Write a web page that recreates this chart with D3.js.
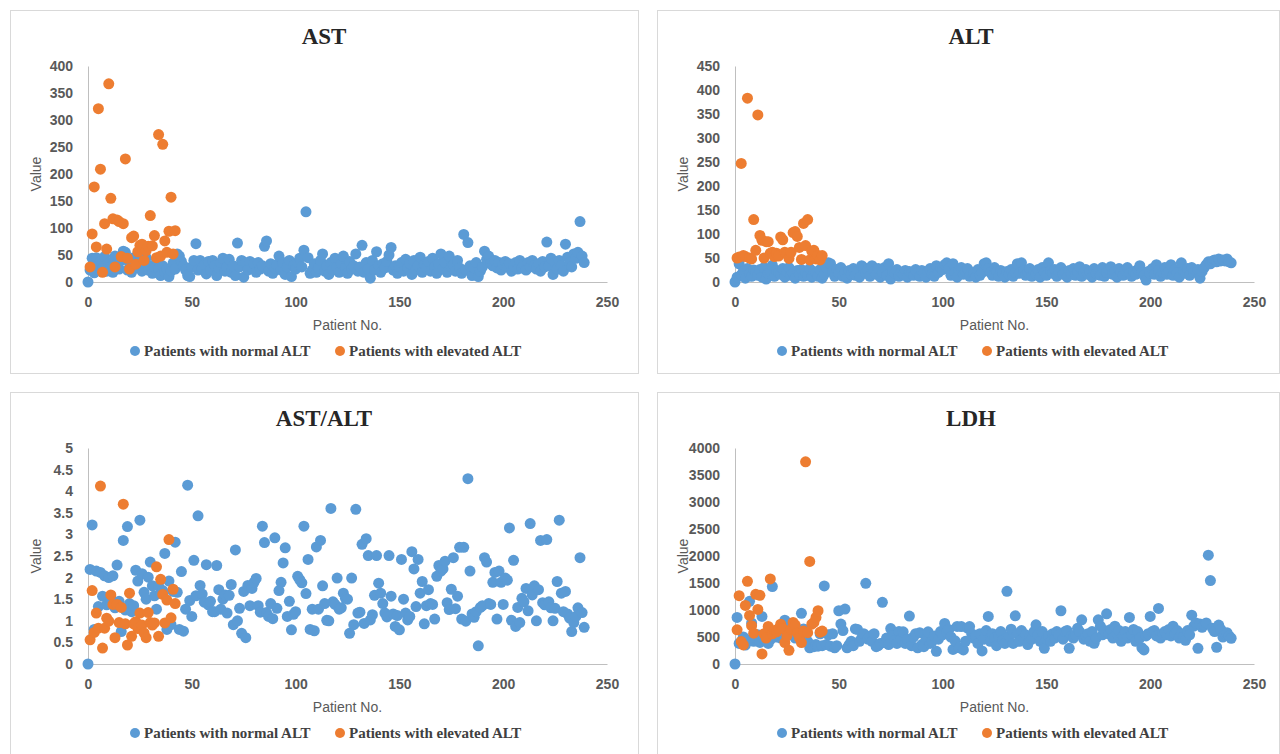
<!DOCTYPE html>
<html>
<head>
<script src="https://cdn.jsdelivr.net/npm/d3@7"></script>
<style>
body { margin: 0; background: #fff; }
.tick text { font-family: "Liberation Sans", Arial, sans-serif; font-weight: bold; font-size: 14px; fill: #595959; }
</style>
</head>
<body>
<script>
// patient number = position in the array (normal group starts at 0, elevated group at 1)
var astNormal = [0,
22,44,17,45,30,38,25,47,20,35,
28,18,48,33,24,40,57,55,22,36,
18,45,29,42,38,20,27,45,22,30,
16,28,42,25,12,30,18,24,10,20,
35,24,52,48,38,30,22,12,10,28,
40,71,22,40,25,32,15,38,22,40,
30,12,26,36,44,20,28,42,18,30,
12,72,28,40,9,35,22,38,26,34,
18,36,24,30,66,76,20,34,16,26,
32,48,22,36,14,28,40,10,30,24,
36,44,28,59,130,45,16,22,34,18,
26,40,52,20,30,14,36,22,44,28,
18,34,48,26,16,38,24,30,52,20,
28,68,18,36,24,7,40,22,56,30,
18,34,26,38,50,64,22,30,16,28,
36,20,42,26,34,14,40,22,30,46,
18,32,26,38,20,44,28,16,34,52,
24,36,18,48,28,32,20,40,26,16,
88,22,73,30,12,26,36,10,20,28,
57,42,48,34,30,40,26,36,22,32,
38,28,34,20,30,36,24,40,26,32,
22,36,28,40,30,24,34,20,38,28,
74,30,44,14,36,24,40,30,20,70,
46,36,28,52,44,55,112,48,36];
var astElevated = [28,89,176,65,321,209,18,108,61,367,
155,117,28,115,112,47,108,228,44,24,
82,85,33,56,68,70,40,58,66,123,
67,86,45,273,48,255,76,55,94,157,
52,95];

var altNormal = [0,
10,38,15,22,8,28,18,12,25,20,
14,26,10,30,6,18,22,35,12,24,
20,16,28,10,22,30,14,18,8,24,
16,26,12,20,14,28,10,22,18,12,
26,8,16,30,40,38,22,12,26,18,
30,12,20,8,24,16,28,14,22,10,
34,30,18,26,12,34,22,16,28,10,
20,30,14,38,6,22,18,26,12,20,
16,24,10,22,18,14,26,20,12,24,
18,10,22,28,16,12,34,20,30,26,
36,40,28,14,38,20,10,24,30,16,
22,28,12,20,18,10,26,14,20,38,
40,28,20,14,30,22,12,24,18,10,
22,16,26,12,20,38,18,40,24,14,
20,28,12,22,16,26,10,30,20,14,
40,24,18,26,12,22,30,16,20,10,
24,18,28,14,22,32,12,20,26,16,
22,10,28,18,24,14,30,12,20,26,
32,16,22,10,28,20,14,24,30,18,
12,22,16,26,34,20,14,4,22,18,
28,16,36,24,12,20,30,16,22,36,
14,26,20,10,40,22,18,28,14,30,
20,24,26,8,22,30,36,42,38,44,
46,42,48,44,46,44,48,42,40];
var altElevated = [50,52,247,55,53,383,50,48,130,66,
348,97,87,50,84,84,60,62,53,60,
54,94,88,62,58,49,62,103,105,95,
72,47,122,76,130,46,64,66,48,55,
46,55];

var ratioNormal = [0,
2.19,3.22,0.80,2.15,1.33,2.12,1.57,2.04,1.37,
2.00,1.52,2.04,1.30,2.29,1.45,0.75,2.86,1.25,3.18,
1.40,1.21,1.35,2.17,1.92,3.33,2.09,1.66,1.50,2.01,
2.36,1.81,1.58,1.27,1.81,1.64,1.70,2.56,0.80,1.92,
0.91,1.68,2.82,1.66,0.80,2.14,0.76,1.27,4.14,1.47,
1.10,2.40,1.58,3.43,1.82,1.62,1.43,2.30,1.37,1.45,
1.21,1.21,2.28,1.72,1.27,1.50,1.60,1.18,1.59,1.84,
0.91,2.64,1.00,1.29,0.71,1.68,0.61,1.82,1.35,1.75,
1.89,1.98,1.35,1.20,3.19,2.81,1.19,1.10,1.40,1.05,
2.92,1.29,1.70,1.89,2.34,2.69,1.10,1.45,0.79,1.15,
1.21,2.03,1.95,1.88,3.19,1.63,2.42,0.80,1.27,0.77,
2.71,1.27,2.86,1.81,1.40,1.01,1.00,3.60,1.44,1.38,
1.99,1.27,1.30,1.64,1.52,1.50,0.71,1.99,0.91,3.58,
1.18,1.20,2.77,0.94,2.90,2.51,1.02,1.14,1.59,2.51,
1.87,1.64,1.40,1.18,1.09,2.51,1.57,1.16,0.87,1.12,
0.79,2.42,1.50,1.18,1.02,1.10,2.60,2.20,1.33,2.42,
1.64,1.91,0.93,1.35,1.72,1.40,1.38,1.04,2.03,2.28,
2.15,2.20,2.38,1.42,1.26,1.73,2.46,1.28,1.57,2.70,
1.04,2.70,0.99,4.29,2.15,1.16,1.08,1.21,0.42,1.31,
1.35,2.46,2.36,1.40,1.38,1.89,2.12,1.04,2.15,1.89,
1.38,1.99,1.94,3.15,1.01,2.40,0.87,1.31,0.96,1.52,
1.44,1.75,1.23,3.25,1.60,1.81,1.00,1.72,2.86,1.42,
1.37,2.88,1.44,1.30,1.00,1.29,1.91,3.33,1.64,1.21,
1.68,1.16,1.06,0.75,0.96,1.10,1.30,2.46,1.19,0.85];
var ratioElevated = [0.56,1.70,0.73,1.18,0.83,4.12,0.37,0.83,1.06,0.99,
1.60,1.38,0.61,1.38,0.96,1.31,3.70,0.93,0.44,1.64,
0.64,0.93,0.98,0.82,1.18,0.90,0.72,0.61,1.19,0.96,
0.90,0.95,2.25,0.64,1.96,1.61,0.95,1.48,2.88,1.07,
1.73,1.40];

var ldhNormal = [0,
862,380,420,500,350,450,1160,760,420,480,
540,400,880,460,520,380,450,1433,600,500,
560,480,620,812,700,540,650,580,480,620,
500,938,650,540,420,300,350,320,360,330,
560,340,1445,360,540,330,560,300,340,986,
740,620,1017,300,360,420,340,650,640,420,
480,560,1495,460,520,420,560,320,340,380,
1142,400,480,360,657,520,440,380,600,460,
595,380,460,887,340,500,560,300,580,360,
320,460,595,380,420,520,235,460,600,540,
750,580,640,500,270,430,695,300,694,260,
420,665,694,560,480,520,380,560,242,460,
620,880,420,560,480,340,520,600,440,380,
1345,520,645,380,893,560,420,620,480,540,
360,520,460,600,725,540,420,600,290,460,
520,420,560,480,600,540,986,460,600,620,
290,520,480,540,660,600,818,460,520,560,
420,600,384,480,818,700,540,620,930,560,
640,480,700,560,620,420,520,600,480,862,
540,640,420,600,480,300,260,520,560,880,
600,620,520,1030,480,560,600,540,640,520,
700,560,620,480,560,500,440,620,540,905,
700,760,290,740,680,720,760,2015,1545,660,
600,310,720,640,500,560,580,520,477];
var ldhElevated = [633,1266,415,353,1085,1532,900,710,570,1290,
1010,1272,186,560,480,695,1575,560,620,595,
657,738,657,397,520,253,640,770,720,570,
490,397,610,3745,580,1900,738,770,862,986,
590,610];

var xTicks = [0, 50, 100, 150, 200, 250];
var seriesNames = ["Patients with normal ALT", "Patients with elevated ALT"];
var seriesColors = ["#5b9bd5", "#ed7d31"];

var panels = [
  { title: "AST", normal: astNormal, elevated: astElevated, yMax: 400, yStep: 50, bx: 10, by: 10 },
  { title: "ALT", normal: altNormal, elevated: altElevated, yMax: 450, yStep: 50, bx: 657, by: 10 },
  { title: "AST/ALT", normal: ratioNormal, elevated: ratioElevated, yMax: 5, yStep: 0.5, bx: 10, by: 392 },
  { title: "LDH", normal: ldhNormal, elevated: ldhElevated, yMax: 4000, yStep: 500, bx: 657, by: 392 }
];

var svg = d3.select("body").append("svg")
    .attr("width", 1280)
    .attr("height", 754);

panels.forEach(drawPanel);

function drawPanel(p) {
  var w = Math.min(628, 1279 - p.bx), h = 363;
  var g = svg.append("g").attr("transform", "translate(" + p.bx + "," + p.by + ")");

  g.append("rect")
    .attr("x", 0.5).attr("y", 0.5)
    .attr("width", w).attr("height", h)
    .attr("fill", "#fff").attr("stroke", "#d9d9d9");

  var left = 78, right = 597, top = 56, bottom = 272;

  var x = d3.scaleLinear().domain([0, 250]).range([left, right]);
  var y = d3.scaleLinear().domain([0, p.yMax]).range([bottom, top]);

  g.append("text")
    .attr("x", 314).attr("y", 34)
    .attr("text-anchor", "middle")
    .style("font-family", "'Liberation Serif', 'Times New Roman', serif")
    .style("font-weight", "bold").style("font-size", "23px")
    .attr("fill", "#262626")
    .text(p.title);

  var yAxis = g.append("g")
    .attr("transform", "translate(" + left + ",0)")
    .call(d3.axisLeft(y).tickValues(d3.range(0, p.yMax + p.yStep / 2, p.yStep)).tickSize(0).tickPadding(15).tickFormat(d3.format("~g")));
  yAxis.select(".domain").attr("stroke", "#bfbfbf");

  var xAxis = g.append("g")
    .attr("transform", "translate(0," + bottom + ")")
    .call(d3.axisBottom(x).tickValues(xTicks).tickSize(0).tickPadding(15));
  xAxis.select(".domain").attr("stroke", "#bfbfbf");

  g.append("text")
    .attr("transform", "translate(31," + ((top + bottom) / 2) + ") rotate(-90)")
    .attr("text-anchor", "middle")
    .style("font-family", "'Liberation Sans', Arial, sans-serif").style("font-size", "14px")
    .attr("fill", "#595959")
    .text("Value");

  g.append("text")
    .attr("x", (left + right) / 2).attr("y", 320)
    .attr("text-anchor", "middle")
    .style("font-family", "'Liberation Sans', Arial, sans-serif").style("font-size", "14px")
    .attr("fill", "#595959")
    .text("Patient No.");

  g.append("g").selectAll("circle")
    .data(p.normal)
    .enter().append("circle")
      .attr("cx", function (d, i) { return x(i); })
      .attr("cy", function (d) { return y(d); })
      .attr("r", 5.5)
      .attr("fill", seriesColors[0]);

  g.append("g").selectAll("circle")
    .data(p.elevated)
    .enter().append("circle")
      .attr("cx", function (d, i) { return x(i + 1); })
      .attr("cy", function (d) { return y(d); })
      .attr("r", 5.5)
      .attr("fill", seriesColors[1]);

  var legend = g.append("g").selectAll("g")
    .data(seriesNames)
    .enter().append("g")
      .attr("transform", function (d, i) { return "translate(" + (125 + i * 205) + ",341)"; });
  legend.append("circle")
    .attr("r", 5)
    .attr("fill", function (d, i) { return seriesColors[i]; });
  legend.append("text")
    .attr("x", 9).attr("y", 5)
    .style("font-family", "'Liberation Serif', 'Times New Roman', serif")
    .style("font-weight", "bold").style("font-size", "15px")
    .attr("fill", "#404040")
    .text(function (d) { return d; });
}
</script>
</body>
</html>
